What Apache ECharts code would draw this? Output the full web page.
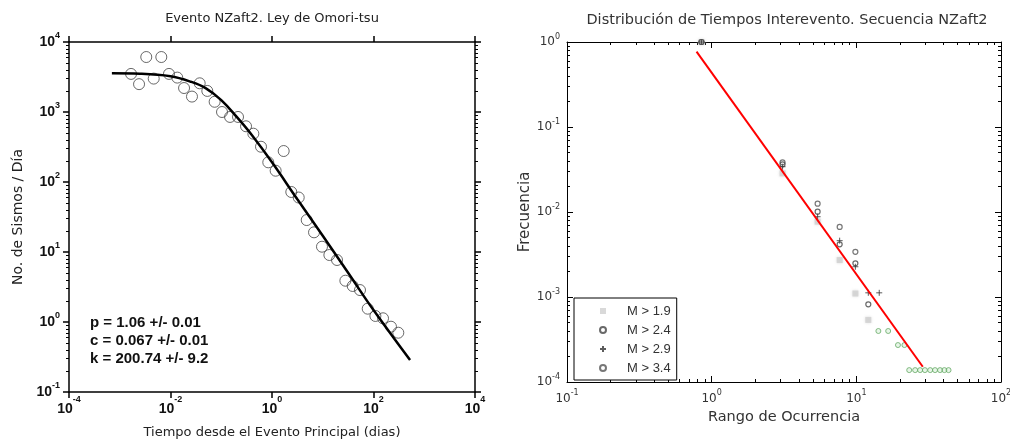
<!DOCTYPE html>
<html>
<head>
<meta charset="utf-8">
<script src="https://cdn.jsdelivr.net/npm/echarts@6.0.0/dist/echarts.min.js"></script>
<style>
html, body { margin: 0; padding: 0; background: #fff; }
#chart { width: 1010px; height: 441px; }
</style>
</head>
<body>
<div id="chart"></div>
<script>
// ---- left panel: Omori law (rate vs time) ----
var omoriTime = [0.00167, 0.0024, 0.00333, 0.00467, 0.00659, 0.00933, 0.0136, 0.0185, 0.0265, 0.0376,
    0.0531, 0.0741, 0.1035, 0.149, 0.214, 0.308, 0.429, 0.607, 0.845, 1.18,
    1.70, 2.40, 3.36, 4.83, 6.73, 9.66, 13.5, 19.1, 27.9, 38.9,
    54.2, 76.9, 109, 154, 221, 308];
var omoriRate = [3500, 2500, 6100, 3000, 6100, 3500, 3100, 2200, 1660, 2570,
    2000, 1400, 1000, 850, 850, 625, 490, 319, 191, 145,
    277, 72, 60, 28.6, 19.1, 11.9, 9.06, 7.69, 3.89, 3.27,
    2.86, 1.55, 1.22, 1.13, 0.857, 0.703];
// fitted curve
var fitTime = [0.0007, 0.0025, 0.01, 0.025, 0.05, 0.1, 0.2, 0.4, 1, 3.16, 10, 31.6, 100, 525];
var fitRate = [3570, 3520, 3240, 2710, 2180, 1480, 857, 469, 191, 56.6, 17.1, 5.06, 1.48, 0.286];
var fitText = ['p = 1.06 +/- 0.01', 'c = 0.067 +/- 0.01', 'k = 200.74 +/- 9.2'];

// ---- right panel: interevent time distribution ----
var rank19 = [0.85, 3.09, 5.4, 7.67, 9.85, 12.1];
var freq19 = [1.0, 0.0285, 0.0077, 0.00272, 0.0011, 0.000537];
var rank24 = [0.85, 3.09, 5.4, 7.67, 9.85, 12.1];
var freq24 = [1.0, 0.0364, 0.0101, 0.00417, 0.00249, 0.00082];
var rank29 = [0.85, 3.09, 5.4, 7.67, 9.85, 12.1, 14.4];
var freq29 = [1.0, 0.0341, 0.0088, 0.0046, 0.00227, 0.00112, 0.00112];
var rank34 = [0.85, 3.09, 5.4, 7.67, 9.85];
var freq34 = [1.0, 0.0384, 0.01253, 0.00667, 0.0034];
var rankTail = [14.2, 16.6, 19.4, 21.5, 23.2, 25.5, 27.6, 29.8, 32.4, 35, 37.9, 40.6, 43.4];
var freqTail = [0.000398, 0.000398, 0.000272, 0.000272, 0.000138, 0.000138, 0.000138, 0.000138,
    0.000138, 0.000138, 0.000138, 0.000138, 0.000138];
var lineRank = [0.786, 28.8];
var lineFreq = [0.769, 0.000151];
var legendNames = ['M > 1.9', 'M > 2.4', 'M > 2.9', 'M > 3.4'];

function pairs(xs, ys) {
    return xs.map(function (x, i) { return [x, ys[i]]; });
}
function pow10(v) {
    return '{b|10}{s|' + Math.round(Math.log10(v)) + '}';
}

var SANS = 'Liberation Sans, Arial, sans-serif';
var DEJAVU = 'DejaVu Sans, Verdana, sans-serif';

var leftRich = function (lh) {
    return {
        b: { fontFamily: SANS, fontSize: 14, fontWeight: 'bold', color: '#111', lineHeight: lh },
        s: { fontFamily: SANS, fontSize: 9, fontWeight: 'bold', color: '#111', lineHeight: 9, verticalAlign: 'top' }
    };
};
var rightRich = function (lh) {
    return {
        b: { fontFamily: DEJAVU, fontSize: 12, color: '#333', lineHeight: lh },
        s: { fontFamily: DEJAVU, fontSize: 8, color: '#333', lineHeight: 8, verticalAlign: 'top' }
    };
};

var blackLine = { lineStyle: { color: '#000', width: 1.5 } };
var leftTick = { length: 6, lineStyle: { color: '#000', width: 1.5 } };
var leftMinor = { show: true, splitNumber: 9, length: 3, lineStyle: { color: '#000', width: 1 } };
var rightTick = { inside: true, length: 6, lineStyle: { color: '#000', width: 1 } };
var rightMinor = { show: true, splitNumber: 9, length: 3, lineStyle: { color: '#000', width: 1 } };

var chart = echarts.init(document.getElementById('chart'));

var option = {
    animation: false,
    backgroundColor: '#fff',
    title: [
        {
            text: 'Evento NZaft2. Ley de Omori-tsu',
            left: 272, top: 12, padding: 0, textAlign: 'center',
            textStyle: { fontFamily: DEJAVU, fontSize: 13, fontWeight: 'normal', color: '#222' }
        },
        {
            text: 'Distribución de Tiempos Interevento. Secuencia NZaft2',
            left: 787, top: 13, padding: 0, textAlign: 'center',
            textStyle: { fontFamily: DEJAVU, fontSize: 14.5, fontWeight: 'normal', color: '#333' }
        }
    ],
    grid: [
        { left: 69, top: 42, width: 406, height: 350, outerBoundsMode: 'none' },
        { left: 567, top: 42, width: 434, height: 340, outerBoundsMode: 'none' }
    ],
    legend: {
        orient: 'vertical',
        left: 574, top: 298,
        padding: [6, 6, 5, 25],
        itemWidth: 6, itemHeight: 6, itemGap: 5,
        borderColor: '#000', borderWidth: 1, backgroundColor: '#fff',
        selectedMode: false,
        textStyle: { fontFamily: SANS, fontSize: 13, color: '#333', lineHeight: 14, padding: [0, 0, 0, 16] },
        data: legendNames
    },
    xAxis: [
        {
            gridIndex: 0, type: 'log', logBase: 100, min: 1e-4, max: 1e4, position: 'bottom',
            axisLine: blackLine, axisTick: leftTick, splitLine: { show: false },
            axisLabel: { formatter: pow10, margin: 3, rich: leftRich(28) },
            name: 'Tiempo desde el Evento Principal (dias)', nameLocation: 'middle', nameGap: 34,
            nameTextStyle: { fontFamily: DEJAVU, fontSize: 13, color: '#222' }
        },
        {
            gridIndex: 0, type: 'log', logBase: 100, min: 1e-4, max: 1e4, position: 'top',
            axisLine: blackLine, axisTick: leftTick, splitLine: { show: false },
            axisLabel: { show: false }
        },
        {
            gridIndex: 1, type: 'log', min: 0.1, max: 100, position: 'bottom',
            axisLine: { lineStyle: { color: '#000', width: 1 } }, axisTick: rightTick, minorTick: rightMinor,
            splitLine: { show: false },
            axisLabel: { formatter: pow10, margin: 7, rich: rightRich(20) },
            name: 'Rango de Ocurrencia', nameLocation: 'middle', nameGap: 26,
            nameTextStyle: { fontFamily: DEJAVU, fontSize: 14.5, color: '#333' }
        },
        {
            gridIndex: 1, type: 'log', min: 0.1, max: 100, position: 'top',
            axisLine: { lineStyle: { color: '#000', width: 1 } }, axisTick: rightTick, minorTick: rightMinor,
            splitLine: { show: false }, axisLabel: { show: false }
        }
    ],
    yAxis: [
        {
            gridIndex: 0, type: 'log', min: 0.1, max: 1e4, position: 'left',
            axisLine: blackLine, axisTick: leftTick, minorTick: leftMinor, splitLine: { show: false },
            axisLabel: { formatter: pow10, margin: 9, rich: leftRich(22) },
            name: 'No. de Sismos / Día', nameLocation: 'middle', nameGap: 44,
            nameTextStyle: { fontFamily: DEJAVU, fontSize: 14, color: '#222' }
        },
        {
            gridIndex: 0, type: 'log', min: 0.1, max: 1e4, position: 'right',
            axisLine: blackLine, axisTick: leftTick, minorTick: leftMinor, splitLine: { show: false },
            axisLabel: { show: false }
        },
        {
            gridIndex: 1, type: 'log', min: 1e-4, max: 1, position: 'left',
            axisLine: { lineStyle: { color: '#000', width: 1 } }, axisTick: rightTick, minorTick: rightMinor,
            splitLine: { show: false },
            axisLabel: { formatter: pow10, margin: 7, rich: rightRich(18) },
            name: 'Frecuencia', nameLocation: 'middle', nameGap: 27,
            nameTextStyle: { fontFamily: DEJAVU, fontSize: 15, color: '#333' }
        },
        {
            gridIndex: 1, type: 'log', min: 1e-4, max: 1, position: 'right',
            axisLine: { lineStyle: { color: '#000', width: 1 } }, axisTick: rightTick, minorTick: rightMinor,
            splitLine: { show: false }, axisLabel: { show: false }
        }
    ],
    graphic: [
        {
            type: 'text', left: 90, top: 314,
            style: { text: fitText.join('\n'), font: 'bold 15px Liberation Sans, Arial, sans-serif', lineHeight: 18, fill: '#111' }
        }
    ],
    series: [
        {
            type: 'scatter', xAxisIndex: 0, yAxisIndex: 0, z: 2,
            symbol: 'circle', symbolSize: 11,
            itemStyle: { color: 'rgba(0,0,0,0)', borderColor: '#444', borderWidth: 1 },
            data: pairs(omoriTime, omoriRate)
        },
        {
            type: 'line', xAxisIndex: 0, yAxisIndex: 0, z: 3,
            showSymbol: false, symbol: 'none', smooth: 0.4,
            lineStyle: { color: '#000', width: 2.5 },
            data: pairs(fitTime, fitRate)
        },
        {
            name: 'M > 1.9', type: 'scatter', xAxisIndex: 2, yAxisIndex: 2, z: 2,
            symbol: 'rect', symbolSize: 6,
            itemStyle: { color: '#cfcfcf', shadowBlur: 3, shadowColor: '#d8d8d8' },
            data: pairs(rank19, freq19)
        },
        {
            name: 'M > 2.4', type: 'scatter', xAxisIndex: 2, yAxisIndex: 2, z: 2,
            symbol: 'circle', symbolSize: 5,
            itemStyle: { color: 'rgba(0,0,0,0)', borderColor: '#444', borderWidth: 1.2 },
            data: pairs(rank24, freq24)
        },
        {
            name: 'M > 2.9', type: 'scatter', xAxisIndex: 2, yAxisIndex: 2, z: 2,
            symbol: 'path://M0,5L10,5M5,0L5,10', symbolSize: 6,
            itemStyle: { color: '#333', borderColor: '#333', borderWidth: 1 },
            data: pairs(rank29, freq29)
        },
        {
            name: 'M > 3.4', type: 'scatter', xAxisIndex: 2, yAxisIndex: 2, z: 2,
            symbol: 'circle', symbolSize: 5,
            itemStyle: { color: 'rgba(0,0,0,0)', borderColor: '#555', borderWidth: 1.2 },
            data: pairs(rank34, freq34)
        },
        {
            name: 'tail', type: 'scatter', xAxisIndex: 2, yAxisIndex: 2, z: 2,
            symbol: 'circle', symbolSize: 5,
            itemStyle: { color: 'rgba(160,220,160,0.3)', borderColor: '#6a6', borderWidth: 1 },
            data: pairs(rankTail, freqTail)
        },
        {
            type: 'line', xAxisIndex: 2, yAxisIndex: 2, z: 3,
            showSymbol: false, symbol: 'none',
            lineStyle: { color: '#ff0000', width: 2 },
            data: pairs(lineRank, lineFreq)
        }
    ]
};

chart.setOption(option);
</script>
</body>
</html>
